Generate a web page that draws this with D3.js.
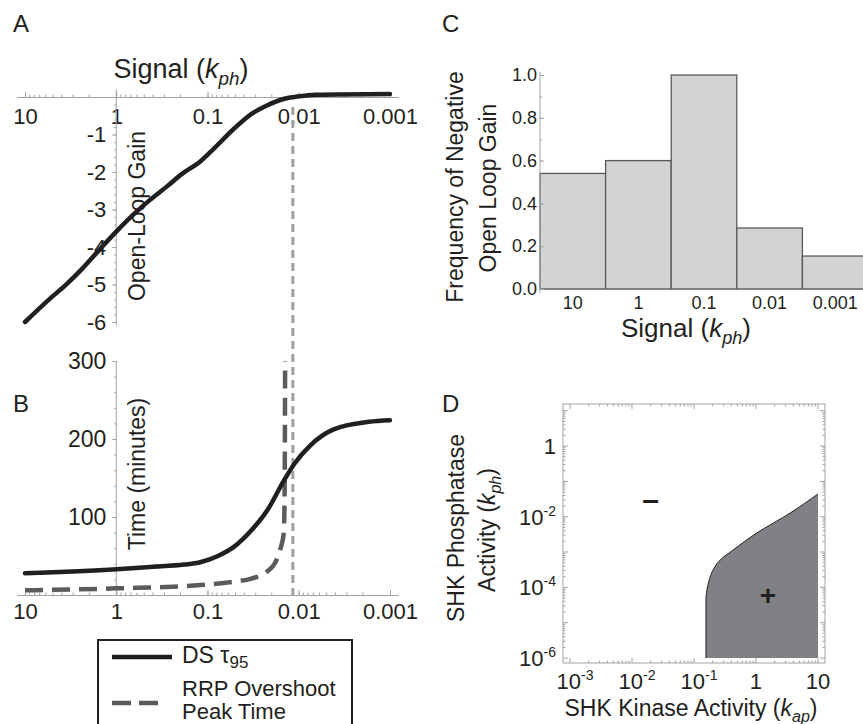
<!DOCTYPE html>
<html>
<head>
<meta charset="utf-8">
<script src="https://cdn.jsdelivr.net/npm/d3@7"></script>
<style>
  body { margin: 0; background: #fff; }
  svg text { font-family: "Liberation Sans", Arial, sans-serif; fill: #231f20; }
</style>
</head>
<body>
<svg id="fig" width="863" height="724"></svg>
<script>
// ---- data ----
const signalTicks = [10, 1, 0.1, 0.01, 0.001];

// panel A: open-loop gain vs signal
const gainSignal = [10, 5.4, 3.5, 2.3, 1.5, 1, 0.66, 0.43, 0.28, 0.19, 0.12, 0.087, 0.052, 0.032, 0.022, 0.015, 0.0098, 0.0065, 0.001];
const gainValue  = [-6.0, -5.39, -4.99, -4.55, -4.05, -3.59, -3.15, -2.75, -2.39, -2.05, -1.72, -1.40, -0.86, -0.43, -0.22, -0.06, 0.02, 0.06, 0.08];
const gainTicks = [-1, -2, -3, -4, -5, -6];

// panel B: DS tau95 and RRP overshoot peak time
const tauSignal = [10, 1, 0.42, 0.18, 0.12, 0.077, 0.051, 0.033, 0.022, 0.0145, 0.0112, 0.0076, 0.0042, 0.0017, 0.001];
const tauValue  = [28, 33, 36, 39, 42, 50, 62, 83, 109, 147, 168, 191, 212, 222, 224];
const peakSignal = [10, 1, 0.12, 0.051, 0.033, 0.0223, 0.0182, 0.016, 0.0146, 0.0143, 0.0142, 0.0141];
const peakValue  = [6, 8.5, 12.8, 17, 21, 30, 41, 58, 79, 122, 186, 300];
const timeTicks = [100, 200, 300];
const thresholdSignal = 0.0116;

// panel C: histogram
const histCategories = ["10", "1", "0.1", "0.01", "0.001"];
const histFreq = [0.54, 0.60, 1.0, 0.285, 0.154];

// panel D: sign region of open loop gain
const boundaryKap = [10, 3.53, 1.04, 0.427, 0.263, 0.195, 0.168, 0.156, 0.156];
const boundaryKph = [4.4e-2, 1.26e-2, 3.5e-3, 1.14e-3, 5.9e-4, 2.7e-4, 1.17e-4, 4.4e-5, 1e-6];
const kapTicks = [1e-3, 1e-2, 1e-1, 1, 10];
const kphTicks = [1, 1e-2, 1e-4, 1e-6];
const minusAt = [0.02, 0.028];
const plusAt = [1.56, 5.6e-5];

// ---- helpers ----
const svg = d3.select("#fig");
const axisCol = "#a3a3a3";
const ink = "#231f20";

function minorLog(lo, hi) {
  const out = [];
  for (let e = Math.floor(Math.log10(lo)); e <= Math.ceil(Math.log10(hi)); e++) {
    for (let m = 1; m < 10; m++) {
      const v = m * Math.pow(10, e);
      if (v >= lo * 0.999 && v <= hi * 1.001) out.push(v);
    }
  }
  return out;
}

function styleAxis(g, size) {
  g.attr("color", axisCol).attr("font-size", size).attr("font-family", null);
  g.selectAll(".domain").attr("stroke-width", 1);
  g.selectAll(".tick line").attr("stroke-width", 1);
  return g;
}

function signalTitle(x, y, size) {
  const t = svg.append("text").attr("x", x).attr("y", y)
      .attr("text-anchor", "middle").attr("font-size", size);
  t.append("tspan").text("Signal (");
  t.append("tspan").attr("font-style", "italic").text("k");
  t.append("tspan").attr("font-style", "italic").attr("font-size", size * 0.7).attr("dy", size * 0.25).text("ph");
  t.append("tspan").attr("dy", -size * 0.25).text(")");
  return t;
}

function panelLabel(txt, x, y) {
  svg.append("text").attr("x", x).attr("y", y).attr("font-size", 24).text(txt);
}

const minusFmt = d => "-" + Math.abs(d);

// ---- shared signal axis for A and B ----
const xSig = d3.scaleLog()
    .domain([Math.pow(10, 1.088), Math.pow(10, -3.088)])
    .range([17, 398]);

// ================= Panel A =================
const yGain = d3.scaleLinear().domain([-6, 0]).range([322, 97]);

panelLabel("A", 13, 32);
signalTitle(181, 78, 27);

svg.append("g").attr("transform", `translate(0,${yGain(0)})`)
    .call(d3.axisBottom(xSig).tickValues(minorLog(0.001, 10)).tickSize(-2.5).tickSizeOuter(0).tickFormat(""))
    .call(styleAxis, 22);
svg.append("g").attr("transform", `translate(0,${yGain(0)})`)
    .call(d3.axisBottom(xSig).tickValues(signalTicks).tickSize(-5).tickSizeOuter(0).tickPadding(11).tickFormat(d3.format("~g")))
    .call(styleAxis, 22);

const yAxisA = svg.append("g").attr("transform", `translate(${xSig(1)},0)`);
yAxisA.append("line").attr("y1", yGain(0.2)).attr("y2", yGain(-6.1))
    .attr("stroke", axisCol);
yAxisA.append("g")
    .call(d3.axisLeft(yGain).tickValues(d3.range(-60, 1, 2).map(d => d / 10)).tickSize(2).tickFormat(""))
    .call(styleAxis, 22).call(g => g.select(".domain").remove());
yAxisA.append("g")
    .call(d3.axisLeft(yGain).tickValues(gainTicks).tickSize(4).tickPadding(6).tickFormat(minusFmt))
    .call(styleAxis, 22).call(g => g.select(".domain").remove());

svg.append("text").attr("font-size", 23).attr("text-anchor", "middle")
    .attr("transform", `translate(145,216) rotate(-90)`).text("Open-Loop Gain");

// ================= Panel B =================
const yTime = d3.scaleLinear().domain([0, 300]).range([595, 361]);

panelLabel("B", 13, 412);

svg.append("g").attr("transform", `translate(0,${yTime(0)})`)
    .call(d3.axisBottom(xSig).tickValues(minorLog(0.001, 10)).tickSize(-2.5).tickSizeOuter(0).tickFormat(""))
    .call(styleAxis, 22);
svg.append("g").attr("transform", `translate(0,${yTime(0)})`)
    .call(d3.axisBottom(xSig).tickValues(signalTicks).tickSize(-5).tickSizeOuter(0).tickPadding(8).tickFormat(d3.format("~g")))
    .call(styleAxis, 22);

const yAxisB = svg.append("g").attr("transform", `translate(${xSig(1)},0)`);
yAxisB.append("line").attr("y1", yTime(300)).attr("y2", yTime(0)).attr("stroke", axisCol);
yAxisB.append("g")
    .call(d3.axisLeft(yTime).tickValues(d3.range(0, 301, 20)).tickSize(2).tickFormat(""))
    .call(styleAxis, 22).call(g => g.select(".domain").remove());
yAxisB.append("g")
    .call(d3.axisLeft(yTime).tickValues(timeTicks).tickSize(4).tickPadding(6))
    .call(styleAxis, 23).call(g => g.select(".domain").remove());

svg.append("text").attr("font-size", 23).attr("text-anchor", "middle")
    .attr("transform", `translate(145,474) rotate(-90)`).text("Time (minutes)");

// threshold dotted line through A and B
svg.append("line")
    .attr("x1", xSig(thresholdSignal)).attr("x2", xSig(thresholdSignal))
    .attr("y1", 107).attr("y2", yTime(0) + 2)
    .attr("stroke", "#a0a0a0").attr("stroke-width", 3).attr("stroke-dasharray", "8,5");

// curves
const lineA = d3.line().x(d => xSig(d[0])).y(d => yGain(d[1])).curve(d3.curveMonotoneX);
svg.append("path").datum(gainSignal.map((s, i) => [s, gainValue[i]]))
    .attr("d", lineA).attr("fill", "none").attr("stroke", ink)
    .attr("stroke-width", 4.5).attr("stroke-linecap", "round");

const lineB = d3.line().x(d => xSig(d[0])).y(d => yTime(d[1])).curve(d3.curveMonotoneX);
svg.append("path").datum(peakSignal.map((s, i) => [s, peakValue[i]]))
    .attr("d", lineB).attr("fill", "none").attr("stroke", "#5b5b5b")
    .attr("stroke-width", 4.5).attr("stroke-dasharray", "18,9");
svg.append("path").datum(tauSignal.map((s, i) => [s, tauValue[i]]))
    .attr("d", lineB).attr("fill", "none").attr("stroke", ink)
    .attr("stroke-width", 4.5).attr("stroke-linecap", "round");

// legend
const leg = svg.append("g");
leg.append("rect").attr("x", 98).attr("y", 640).attr("width", 254).attr("height", 110)
    .attr("fill", "#fff").attr("stroke", ink).attr("stroke-width", 2);
leg.append("line").attr("x1", 112).attr("x2", 172).attr("y1", 657).attr("y2", 657)
    .attr("stroke", ink).attr("stroke-width", 4.5);
leg.append("line").attr("x1", 112).attr("x2", 158).attr("y1", 703).attr("y2", 703)
    .attr("stroke", "#5b5b5b").attr("stroke-width", 4.5).attr("stroke-dasharray", "19,8");
const legT = leg.append("text").attr("x", 182).attr("y", 663).attr("font-size", 23);
legT.append("tspan").text("DS τ");
legT.append("tspan").attr("font-size", 17).attr("dy", 5).text("95");
leg.append("text").attr("x", 182).attr("y", 696).attr("font-size", 22).text("RRP Overshoot");
leg.append("text").attr("x", 182).attr("y", 719).attr("font-size", 22).text("Peak Time");

// ================= Panel C =================
const xCat = d3.scaleBand().domain(histCategories).range([540, 868]).padding(0);
const yFreq = d3.scaleLinear().domain([0, 1]).range([289, 75]);

panelLabel("C", 442, 32);

svg.append("g").selectAll("rect").data(histCategories).join("rect")
    .attr("x", d => xCat(d)).attr("width", xCat.bandwidth())
    .attr("y", (d, i) => yFreq(histFreq[i]))
    .attr("height", (d, i) => yFreq(0) - yFreq(histFreq[i]))
    .attr("fill", "#d2d3d5").attr("stroke", "#58595b").attr("stroke-width", 1.3);

svg.append("line").attr("x1", 540).attr("x2", 863).attr("y1", yFreq(0)).attr("y2", yFreq(0))
    .attr("stroke", "#777");
const yAxisC = svg.append("g").attr("transform", "translate(540,0)");
yAxisC.append("line").attr("y1", 72).attr("y2", yFreq(0) + 4).attr("stroke", axisCol);
yAxisC.append("g")
    .call(d3.axisLeft(yFreq).tickValues(d3.range(0, 11).map(d => d / 10)).tickSize(-2).tickFormat(""))
    .call(styleAxis, 18).call(g => g.select(".domain").remove());
yAxisC.append("g")
    .call(d3.axisLeft(yFreq).tickValues(d3.range(0, 6).map(d => d / 5)).tickSize(-4).tickPadding(3).tickFormat(d3.format(".1f")))
    .call(styleAxis, 18).call(g => g.select(".domain").remove());

svg.append("g").selectAll("text").data(histCategories).join("text")
    .attr("x", d => xCat(d) + xCat.bandwidth() / 2).attr("y", 309)
    .attr("text-anchor", "middle").attr("font-size", 18).text(d => d);

signalTitle(686, 337, 26);
svg.append("text").attr("font-size", 23).attr("text-anchor", "middle")
    .attr("transform", "translate(463,187) rotate(-90)").text("Frequency of Negative");
svg.append("text").attr("font-size", 23).attr("text-anchor", "middle")
    .attr("transform", "translate(496,188) rotate(-90)").text("Open Loop Gain");

// ================= Panel D =================
const xKap = d3.scaleLog().domain([Math.pow(10, -3.113), Math.pow(10, 1.113)]).range([563, 825]);
const yKph = d3.scaleLog().domain([Math.pow(10, -6.14), Math.pow(10, 1.19)]).range([663, 404]);

panelLabel("D", 442, 412);

// sign region
const region = boundaryKap.map((k, i) => [k, boundaryKph[i]]);
svg.append("path").datum(region)
    .attr("d", d3.area().y(d => yKph(d[1])).x0(d => xKap(d[0])).x1(xKap(10)).curve(d3.curveMonotoneY))
    .attr("fill", "#808184");
svg.append("path").datum(region)
    .attr("d", d3.line().x(d => xKap(d[0])).y(d => yKph(d[1])).curve(d3.curveMonotoneY))
    .attr("fill", "none").attr("stroke", ink).attr("stroke-width", 1);

// frame with inward ticks
const frame = svg.append("g");
frame.append("rect").attr("x", 563).attr("y", 404).attr("width", 262).attr("height", 259)
    .attr("fill", "none").attr("stroke", axisCol);
const kapMinor = minorLog(1e-3, 10);
const kphMinor = minorLog(1e-6, 10);
[[663, -1], [404, 1]].forEach(([y0, dir]) => {
  frame.selectAll(null).data(kapMinor).join("line")
      .attr("x1", d => xKap(d)).attr("x2", d => xKap(d))
      .attr("y1", y0).attr("y2", d => y0 + dir * (kapTicks.includes(d) ? 5 : 2.5))
      .attr("stroke", axisCol);
});
[[563, 1], [825, -1]].forEach(([x0, dir]) => {
  frame.selectAll(null).data(kphMinor.filter(d => yKph(d) > 404)).join("line")
      .attr("y1", d => yKph(d)).attr("y2", d => yKph(d))
      .attr("x1", x0).attr("x2", d => x0 + dir * ([1e-6, 1e-5, 1e-4, 1e-3, 1e-2, 1e-1, 1, 10].includes(d) ? 5 : 2.5))
      .attr("stroke", axisCol);
});

function powLabel(sel, v) {
  const e = Math.round(Math.log10(v));
  if (e === 0) sel.text("1");
  else if (e === 1) sel.text("10");
  else {
    sel.append("tspan").text("10");
    sel.append("tspan").attr("font-size", 14).attr("dy", -9).text("-" + Math.abs(e));
  }
}

svg.append("g").selectAll("text").data(kapTicks).join("text")
    .attr("x", d => xKap(d) + (d < 1 ? 5 : 0)).attr("y", 689)
    .attr("text-anchor", "middle").attr("font-size", 22)
    .each(function (d) { powLabel(d3.select(this), d); });
svg.append("g").selectAll("text").data(kphTicks).join("text")
    .attr("x", 556).attr("y", d => yKph(d) + 8)
    .attr("text-anchor", "end").attr("font-size", 22)
    .each(function (d) { powLabel(d3.select(this), d); });

svg.append("text").attr("x", xKap(minusAt[0])).attr("y", yKph(minusAt[1]) + 9)
    .attr("text-anchor", "middle").attr("font-size", 30).attr("font-weight", "bold").text("–");
svg.append("text").attr("x", xKap(plusAt[0])).attr("y", yKph(plusAt[1]) + 9)
    .attr("text-anchor", "middle").attr("font-size", 28).attr("font-weight", "bold").text("+");

const dx = svg.append("text").attr("x", 691).attr("y", 716)
    .attr("text-anchor", "middle").attr("font-size", 23);
dx.append("tspan").text("SHK Kinase Activity (");
dx.append("tspan").attr("font-style", "italic").text("k");
dx.append("tspan").attr("font-style", "italic").attr("font-size", 16).attr("dy", 6).text("ap");
dx.append("tspan").attr("dy", -6).text(")");

svg.append("text").attr("font-size", 23).attr("text-anchor", "middle")
    .attr("transform", "translate(464,528) rotate(-90)").text("SHK Phosphatase");
const dy = svg.append("text").attr("font-size", 23).attr("text-anchor", "middle")
    .attr("transform", "translate(495,530) rotate(-90)");
dy.append("tspan").text("Activity (");
dy.append("tspan").attr("font-style", "italic").text("k");
dy.append("tspan").attr("font-style", "italic").attr("font-size", 16).attr("dy", 6).text("ph");
dy.append("tspan").attr("dy", -6).text(")");
</script>
</body>
</html>
